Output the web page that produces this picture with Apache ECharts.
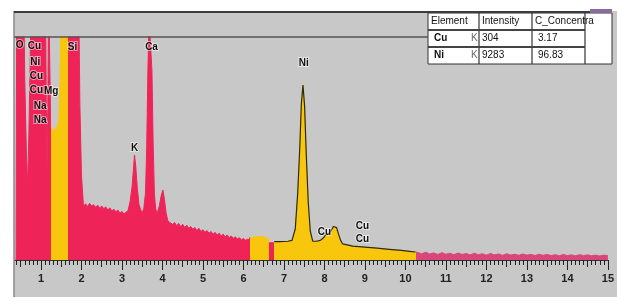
<!DOCTYPE html>
<html>
<head>
<meta charset="utf-8">
<script src="https://cdn.jsdelivr.net/npm/echarts@6/dist/echarts.min.js"></script>
<style>
  html, body { margin: 0; padding: 0; background: #fff; }
  #eds_chart { width: 617px; height: 301px; }
</style>
</head>
<body>
<div id="eds_chart"></div>
<script>
// EDS spectrum, energy in keV, counts in arbitrary units (1000 = top of the window)
var energy = [
  0.33, 0.385, 0.40, 0.57, 0.60, 0.64, 0.67, 0.70, 0.73, 0.76,
  1.11, 1.13, 1.15, 1.17, 1.19, 1.235, 1.24, 1.30, 1.38, 1.44, 1.47, 1.50,
  1.66, 1.93, 1.96, 2.00,
  2.05, 2.10, 2.15, 2.20, 2.25, 2.30, 2.35, 2.40, 2.45, 2.50, 2.55, 2.60,
  2.65, 2.70, 2.75, 2.80, 2.85, 2.90, 2.95, 3.00, 3.05, 3.10, 3.15,
  3.20, 3.25, 3.28, 3.31, 3.34, 3.38, 3.42, 3.46, 3.50, 3.54, 3.58, 3.61,
  3.64, 3.67, 3.71, 3.74, 3.77, 3.80, 3.83, 3.87, 3.92, 3.97, 4.01, 4.05,
  4.09, 4.13, 4.18,
  4.20, 4.25, 4.30, 4.35, 4.40, 4.45, 4.50, 4.55, 4.60, 4.65, 4.70, 4.75,
  4.80, 4.85, 4.90, 4.95, 5.00, 5.05, 5.10, 5.15, 5.20, 5.25, 5.30, 5.35,
  5.40, 5.45, 5.50, 5.55, 5.60, 5.65, 5.70, 5.75, 5.80, 5.85, 5.90, 5.95,
  6.00, 6.05, 6.10, 6.15,
  6.15, 6.30, 6.40, 6.50, 6.61, 6.62, 6.75, 6.76, 6.90, 7.00, 7.10, 7.20,
  7.28, 7.34, 7.39, 7.43, 7.47, 7.51, 7.55, 7.60, 7.65, 7.71,
  7.80, 7.90, 7.98, 8.04, 8.10, 8.16, 8.22, 8.26, 8.30, 8.35, 8.40, 8.45,
  8.48, 8.70, 9.00, 9.30, 9.60, 9.90, 10.10, 10.25,
  10.26, 10.3, 10.4, 10.5, 10.6, 10.7, 10.8, 10.9, 11.0, 11.1, 11.2, 11.3,
  11.4, 11.5, 11.6, 11.7, 11.8, 11.9, 12.0, 12.1, 12.2, 12.3, 12.4, 12.5,
  12.6, 12.7, 12.8, 12.9, 13.0, 13.1, 13.2, 13.3, 13.4, 13.5, 13.6, 13.7,
  13.8, 13.9, 14.0, 14.1, 14.2, 14.3, 14.4, 14.5, 14.6, 14.7, 14.8, 14.9, 15.0
];
var counts = [
  0, 0, 1200, 1200, 800, 480, 336, 560, 860, 1200,
  1200, 720, 404, 720, 1200, 1200, 600, 580, 590, 620, 800, 1200,
  1200, 1200, 700, 380,
  240, 252, 240, 254, 242, 248, 236, 246, 232, 242, 230, 238,
  224, 234, 220, 228, 216, 224, 210, 218, 206, 214, 222,
  262, 330, 400, 471, 420, 320, 250, 226, 212, 232, 300, 500,
  850, 1080, 1080, 850, 520, 300, 230, 210, 240, 290, 314, 270,
  212, 178, 168,
  172, 160, 168, 154, 164, 150, 160, 146, 156, 142, 150, 138,
  146, 132, 142, 128, 136, 124, 132, 120, 128, 116, 124, 112,
  120, 108, 116, 104, 112, 100, 108, 97, 104, 94, 100, 91,
  96, 89, 93, 90,
  100, 104, 106, 102, 98, 77, 77, 82, 82, 83, 84, 88,
  140, 300, 500, 700, 785, 690, 480, 260, 130, 85,
  84, 88, 100, 115, 118, 130, 150, 157, 145, 115, 88, 72,
  65, 62, 58, 53, 48, 43, 39, 36,
  34, 34, 28, 35, 27, 32, 25, 33, 26, 30, 24, 31,
  25, 29, 23, 30, 24, 28, 22, 29, 23, 27, 21, 28,
  22, 26, 21, 27, 22, 25, 20, 26, 21, 25, 20, 24,
  19, 25, 20, 23, 19, 24, 20, 23, 19, 22, 18, 22, 19
];
// regions of interest (yellow), keV
var roiRanges = [[1.24, 1.66], [6.15, 6.62], [6.76, 10.26]];
var tailStart = 10.26;

// element markers: name, keV, counts
var peakLabels = [
  ['O', 0.47, 964], ['Cu', 0.84, 960], ['Ni', 0.86, 888], ['Cu', 0.89, 825],
  ['Cu', 0.89, 762], ['Mg', 1.25, 758], ['Na', 0.98, 690], ['Na', 0.98, 628],
  ['Si', 1.78, 955], ['Ca', 3.73, 955], ['K', 3.31, 502], ['Ni', 7.49, 883],
  ['Cu', 8.00, 126], ['Cu', 8.94, 152], ['Cu', 8.94, 94]
];

// quantification table
var tableHead = ['Element', 'Intensity', 'C_Concentra'];
var tableRows = [
  ['Cu', 'K', '304', '3.17'],
  ['Ni', 'K', '9283', '96.83']
];

var RED = '#ee2458', YELLOW = '#f8c60c', PINK = '#d9467a';
var FONT = "'Liberation Sans Narrow', 'Liberation Sans', sans-serif";

var spectrum = energy.map(function (e, i) { return [e, counts[i]]; });
var niOutline = spectrum.filter(function (p) { return p[0] >= 6.76 && p[0] <= 10.26; });

var pieces = [];
var from = 0;
roiRanges.forEach(function (r) {
  pieces.push({ min: from, max: r[0], color: RED });
  pieces.push({ min: r[0], max: r[1], color: YELLOW });
  from = r[1];
});
pieces[pieces.length - 1].max = tailStart;
pieces.push({ min: tailStart, max: 15, color: PINK });

// table drawn with graphic elements
var tx = [428, 479, 532, 585], ty = [13, 30, 47, 64];
var tableEls = [
  { type: 'rect', shape: { x: tx[0], y: ty[0], width: 612 - tx[0], height: ty[3] - ty[0] },
    style: { fill: '#fff', stroke: '#333', lineWidth: 1 } }
];
for (var i = 1; i < 4; i++) {
  tableEls.push({ type: 'line', shape: { x1: tx[i], y1: ty[0], x2: tx[i], y2: ty[3] },
    style: { stroke: '#333', lineWidth: 1.2 } });
}
for (var j = 1; j < 3; j++) {
  tableEls.push({ type: 'line', shape: { x1: tx[0], y1: ty[j], x2: tx[3], y2: ty[j] },
    style: { stroke: '#444', lineWidth: 2 } });
}
tableHead.forEach(function (h, k) {
  tableEls.push({ type: 'text', x: tx[k] + 3, y: (ty[0] + ty[1]) / 2,
    style: { text: h, fill: '#111', font: '10px ' + FONT, verticalAlign: 'middle' } });
});
tableRows.forEach(function (row, r) {
  var cy = (ty[r + 1] + ty[r + 2]) / 2;
  tableEls.push({ type: 'text', x: tx[0] + 6, y: cy, style: { text: row[0], fill: '#111', font: 'bold 10px ' + FONT, verticalAlign: 'middle' } });
  tableEls.push({ type: 'text', x: tx[1] - 8, y: cy, style: { text: row[1], fill: '#666', font: '10px ' + FONT, verticalAlign: 'middle' } });
  tableEls.push({ type: 'text', x: tx[1] + 3, y: cy, style: { text: row[2], fill: '#111', font: '10px ' + FONT, verticalAlign: 'middle' } });
  tableEls.push({ type: 'text', x: tx[2] + 6, y: cy, style: { text: row[3], fill: '#111', font: '10px ' + FONT, verticalAlign: 'middle' } });
});

var myChart = echarts.init(document.getElementById('eds_chart'));
option = {
  backgroundColor: '#c8c8c8',
  animation: false,
  grid: { left: 0.5, top: 37, width: 618, height: 223 },
  xAxis: [{
    type: 'value', min: 0, max: 15, interval: 1,
    axisLine: { show: true, lineStyle: { color: '#333', width: 1 } },
    axisTick: { show: true, length: 10, lineStyle: { color: '#222' } },
    minorTick: { show: true, splitNumber: 10, length: 5, lineStyle: { color: '#222' } },
    axisLabel: { color: '#222', fontSize: 11, margin: 13, fontFamily: FONT, fontWeight: 'bold', showMinLabel: false },
    splitLine: { show: false }
  }, {
    type: 'value', min: 0, max: 15, interval: 0.5, position: 'bottom',
    axisLine: { show: false },
    axisTick: { show: true, length: 7, lineStyle: { color: '#222' } },
    axisLabel: { show: false },
    splitLine: { show: false }
  }],
  yAxis: { type: 'value', min: 0, max: 1000, show: false },
  visualMap: {
    show: false, type: 'piecewise', dimension: 0, seriesIndex: 0,
    pieces: pieces
  },
  series: [{
    type: 'line',
    data: spectrum,
    showSymbol: false,
    symbol: 'none',
    lineStyle: { width: 1 },
    areaStyle: { opacity: 1 },
    z: 2
  }, {
    type: 'line',
    data: niOutline,
    showSymbol: false,
    symbol: 'none',
    lineStyle: { color: '#2a2a1a', width: 1.2 },
    z: 3,
    markPoint: {
      symbol: 'rect', symbolSize: 0,
      label: {
        show: true, formatter: '{b}', color: '#111', fontSize: 10, fontWeight: 'bold',
        fontFamily: FONT, textBorderColor: 'rgba(255,255,255,0.55)', textBorderWidth: 2
      },
      data: peakLabels.map(function (p) { return { name: p[0], coord: [p[1], p[2]] }; })
    }
  }],
  graphic: [
    { type: 'rect', z: 100, shape: { x: 0, y: 0, width: 14, height: 301 }, style: { fill: '#fff' } },
    { type: 'rect', z: 100, shape: { x: 0, y: 0, width: 617, height: 11 }, style: { fill: '#fff' } },
    { type: 'rect', z: 100, shape: { x: 0, y: 297, width: 617, height: 4 }, style: { fill: '#fff' } },
    { type: 'line', z: 101, shape: { x1: 14, y1: 11, x2: 14, y2: 297 }, style: { stroke: '#8a8a8a', lineWidth: 1.5 } },
    { type: 'line', z: 101, shape: { x1: 14, y1: 12, x2: 592, y2: 12 }, style: { stroke: '#3c3c3c', lineWidth: 2 } },
    { type: 'line', z: 101, shape: { x1: 14, y1: 37, x2: tx[0], y2: 37 }, style: { stroke: '#555', lineWidth: 1.5 } },
    { type: 'rect', z: 101, shape: { x: 590, y: 9, width: 22, height: 4 }, style: { fill: '#8a6a9a' } },
    { type: 'group', z: 102, children: tableEls }
  ]
};
myChart.setOption(option);
window.onresize = function () {
  myChart.resize();
};
</script>
</body>
</html>
